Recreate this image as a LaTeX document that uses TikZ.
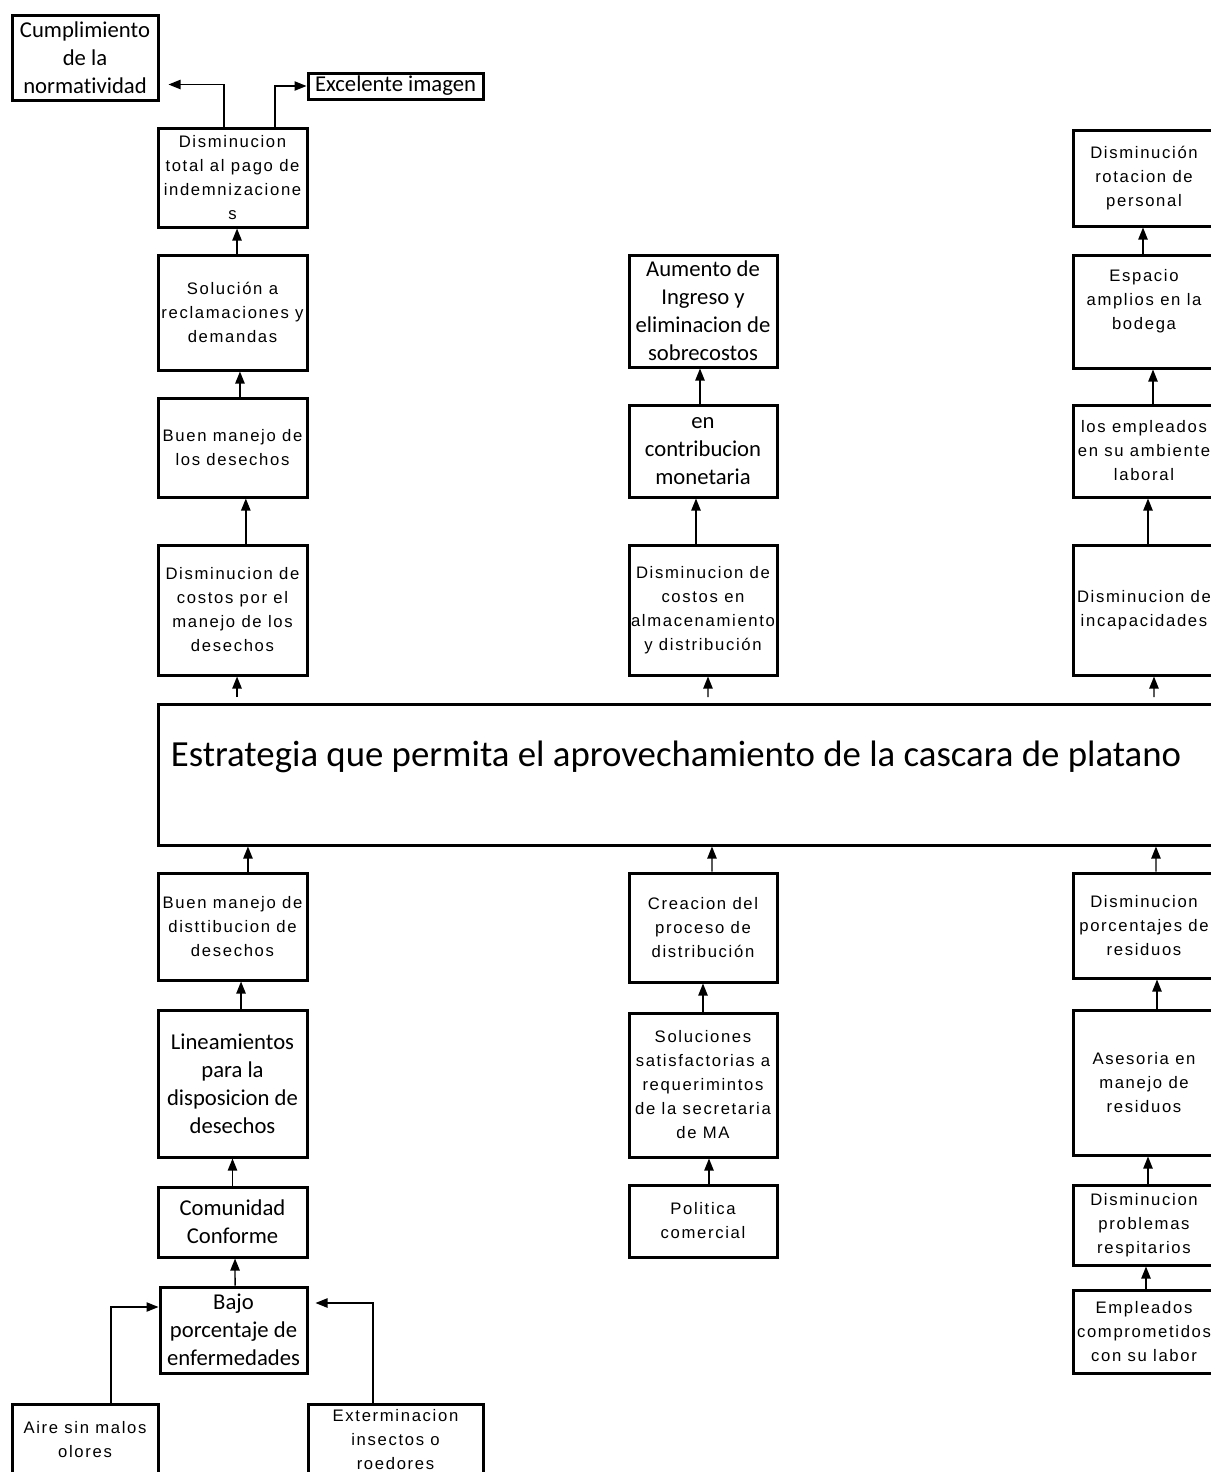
\documentclass[tikz,border=0pt]{standalone}
\usepackage{fontspec}
\setmainfont{Liberation Sans}
\newfontfamily\arialsp[LetterSpace=10]{Liberation Sans}
\newfontfamily\calib[Ligatures=NoCommon]{Carlito}
\usetikzlibrary{arrows.meta}
\tikzset{
  x=0.75pt, y=-0.75pt,
  box/.style={draw, line width=2.25pt, inner sep=1pt, align=center},
  ar/.style={box, font=\arialsp\fontsize{12.5}{18}\selectfont},
  ca/.style={box, font=\calib\fontsize{17}{21}\selectfont},
  lc/.style={minimum width=111.75pt},
  mc/.style={minimum width=111pt},
  rc/.style={minimum width=106.5pt},
  arr/.style={line width=1pt, -{Triangle[width=7pt,length=9pt]}},
}
\begin{document}
\begin{tikzpicture}
\useasboundingbox (0,0) rectangle (1211,1472);
\clip (0,0) rectangle (1211,1472);
% left column
\node[ca, minimum width=109.5pt, minimum height=63.75pt] (cumpl) at (85,57.5) {Cumplimiento\\de la\\normatividad};
\node[ca, minimum width=131.25pt, minimum height=19.5pt, inner sep=0pt] (excel) at (395.5,86) {Excelente imagen};
\node[ar, lc, minimum height=74.25pt] (dtotal) at (232.5,177.5) {Disminucion\\total al pago de\\indemnizacione\\s};
\node[ar, lc, minimum height=86.25pt] (soluc) at (232.5,312.5) {Solución a\\reclamaciones y\\demandas};
\node[ar, lc, minimum height=74.25pt] (buenm) at (232.5,447.5) {Buen manejo de\\los desechos};
\node[ar, lc, minimum height=97.5pt] (dcostos) at (232.5,610) {Disminucion de\\costos por el\\manejo de los\\desechos};
\node[box, minimum width=792.75pt, minimum height=105.75pt] (central) at (686.5,774.5) {};
\node[font=\calib\fontsize{27.6}{32}\selectfont, inner sep=0pt] (ctitle) at (676,757) {Estrategia que permita el aprovechamiento de la cascara de platano};
\node[ar, lc, minimum height=80.25pt] (buendist) at (232.5,926.5) {Buen manejo de\\disttibucion de\\desechos};
\node[ca, lc, minimum height=110.25pt] (linea) at (232.5,1083.5) {Lineamientos\\para la\\disposicion de\\desechos};
\node[ca, lc, minimum height=52.5pt] (comun) at (232.5,1222) {Comunidad\\Conforme};
\node[ca, minimum width=110.25pt, minimum height=64.5pt] (bajo) at (233.5,1330) {Bajo\\porcentaje de\\enfermedades};
\node[ar, minimum width=109.5pt, minimum height=54pt] (aire) at (85,1440) {Aire sin malos\\olores};
\node[ar, minimum width=131.25pt, minimum height=54pt] (exterm) at (395.5,1440) {Exterminacion\\insectos o\\roedores};
% middle column
\node[ca, mc, minimum height=84pt] (aumento) at (703,311) {Aumento de\\Ingreso y\\eliminacion de\\sobrecostos};
\node[ca, mc, minimum height=69pt] (contrib) at (703,451) {en\\contribucion\\monetaria};
\node[ar, mc, minimum height=97.5pt] (dalmac) at (703,610) {Disminucion de\\costos en\\almacenamiento\\y distribución};
\node[ar, mc, minimum height=81.75pt] (creacion) at (703,927.5) {Creacion del\\proceso de\\distribución};
\node[ar, mc, minimum height=108pt] (soluciones) at (703,1085) {Soluciones\\satisfactorias a\\requerimintos\\de la secretaria\\de MA};
\node[ar, mc, minimum height=54pt] (politica) at (703,1221) {Politica\\comercial};
% right column
\node[ar, rc, minimum height=72pt] (drot) at (1144,178) {Disminución\\rotacion de\\personal};
\node[ar, rc, minimum height=84.75pt] (espacio) at (1144,311.5) {Espacio\\amplios en la\\bodega\\ };
\node[ar, rc, minimum height=69pt] (empamb) at (1144,451) {los empleados\\en su ambiente\\laboral};
\node[ar, rc, minimum height=97.5pt] (dincap) at (1144,610) {Disminucion de\\incapacidades};
\node[ar, rc, minimum height=78.75pt] (dporc) at (1144,925.5) {Disminucion\\porcentajes de\\residuos};
\node[ar, rc, minimum height=108.75pt] (asesoria) at (1144,1082.5) {Asesoria en\\manejo de\\residuos};
\node[ar, rc, minimum height=60pt] (dprob) at (1144,1225) {Disminucion\\problemas\\respitarios};
\node[ar, rc, minimum height=62.25pt] (empcomp) at (1144,1331.5) {Empleados\\comprometidos\\con su labor};
% left column arrows
\draw[arr] ([xshift=3.4pt]soluc.north) -- ([xshift=3.4pt]dtotal.south);
\draw[arr] ([xshift=5.6pt]buenm.north) -- ([xshift=5.6pt]soluc.south);
\draw[arr] ([xshift=10pt]dcostos.north) -- ([xshift=10pt]buenm.south);
\draw[arr, shorten <=4pt] ([xshift=-337.1pt]central.north) -- ([xshift=3.4pt]dcostos.south);
\draw[arr] ([xshift=11.6pt]buendist.north) -- ([xshift=-328.9pt]central.south);
\draw[arr] ([xshift=6.4pt]linea.north) -- ([xshift=6.4pt]buendist.south);
\draw[arr] (comun.north) -- (linea.south);
\draw[arr] ([xshift=1.2pt]bajo.north) -- ([xshift=1.9pt]comun.south);
\draw[arr] ([xshift=-6.4pt]dtotal.north) |- ([xshift=6.75pt,yshift=12.75pt]cumpl.south east);
\draw[arr] ([xshift=31.9pt]dtotal.north) |- (excel.west);
\draw[arr] ([xshift=19.5pt]aire.north) |- ([yshift=17.25pt]bajo.west);
\draw[arr] ([xshift=-16.9pt]exterm.north) |- ([xshift=5.25pt,yshift=20.25pt]bajo.east);
% middle column arrows
\draw[arr] ([xshift=-2.25pt]contrib.north) -- ([xshift=-2.25pt]aumento.south);
\draw[arr] ([xshift=-5.25pt]dalmac.north) -- ([xshift=-5.25pt]contrib.south);
\draw[arr, shorten <=4pt] ([xshift=16.1pt]central.north) -- ([xshift=3.75pt]dalmac.south);
\draw[arr] ([xshift=6.75pt]creacion.north) -- ([xshift=19.1pt]central.south);
\draw[arr] (soluciones.north) -- (creacion.south);
\draw[arr] ([xshift=4.5pt]politica.north) -- ([xshift=4.5pt]soluciones.south);
% right column arrows
\draw[arr] ([xshift=-0.75pt]espacio.north) -- ([xshift=-0.75pt]drot.south);
\draw[arr] ([xshift=6.75pt]empamb.north) -- ([xshift=6.75pt]espacio.south);
\draw[arr] ([xshift=3pt]dincap.north) -- ([xshift=3pt]empamb.south);
\draw[arr, shorten <=4pt] ([xshift=350.6pt]central.north) -- ([xshift=7.5pt]dincap.south);
\draw[arr] ([xshift=9pt]dporc.north) -- ([xshift=352.1pt]central.south);
\draw[arr] ([xshift=9.75pt]asesoria.north) -- ([xshift=9.75pt]dporc.south);
\draw[arr] ([xshift=3pt]dprob.north) -- ([xshift=3pt]asesoria.south);
\draw[arr] ([xshift=1.5pt]empcomp.north) -- ([xshift=1.5pt]dprob.south);
\end{tikzpicture}
\end{document}
